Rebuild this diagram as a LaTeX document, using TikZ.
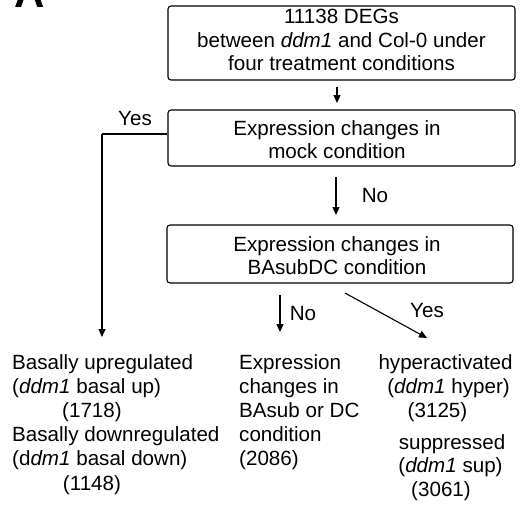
\documentclass[tikz,border=0pt]{standalone}
\usepackage{fontspec}
\setmainfont{Liberation Sans}
\usetikzlibrary{arrows.meta}
\begin{document}
\begin{tikzpicture}[x=1pt,y=-1pt,
  box/.style={draw, line width=1.1pt, rounded corners=3pt, inner sep=0pt},
  tl/.style={font=\fontsize{20.6}{24}\selectfont, inner sep=0pt},
  arr/.style={line width=1.1pt, -{Triangle[width=7pt,length=8pt]}},
  plain/.style={line width=1.1pt}]
\useasboundingbox (0,0) rectangle (532,504);
\clip (0,0) rectangle (532,504);

% panel letter (cut off at the top, as in the reference)
\node[font=\fontsize{42}{42}\selectfont\bfseries, inner sep=0pt, anchor=base west] (panel) at (14,7) {A};

% boxes
\node[box, minimum width=347pt, minimum height=74pt] (b1) at (341.5,43) {};
\node[box, minimum width=347pt, minimum height=56pt] (b2) at (341.5,138) {};
\node[box, minimum width=346pt, minimum height=58pt] (b3) at (340,254) {};

% box texts
\node[tl, anchor=base] (b1a) at (341.5,23.5) {11138 DEGs};
\node[tl, anchor=base] (b1b) at (341.5,47) {between \textit{ddm1} and Col-0 under};
\node[tl, anchor=base] (b1c) at (341.5,70.5) {four treatment conditions};
\node[tl, anchor=base] (b2a) at (337,135) {Expression changes in};
\node[tl, anchor=base] (b2b) at (337,158) {mock condition};
\node[tl, anchor=base] (b3a) at (337,251) {Expression changes in};
\node[tl, anchor=base] (b3b) at (337,274) {BAsubDC condition};

% labels
\node[tl, anchor=base] (yes1) at (135,125) {Yes};
\node[tl, anchor=base] (no1) at (375,202) {No};
\node[tl, anchor=base] (no2) at (303,320) {No};
\node[tl, anchor=base] (yes2) at (427,317) {Yes};

% bottom left column
\node[tl, anchor=base west] (l1) at (12,369) {Basally upregulated};
\node[tl, anchor=base west] (l2) at (12,393) {(\textit{ddm1} basal up)};
\node[tl, anchor=base] (l3) at (92,417) {(1718)};
\node[tl, anchor=base west] (l4) at (12,441) {Basally downregulated};
\node[tl, anchor=base west] (l5) at (12,465) {(d\textit{dm1} basal down)};
\node[tl, anchor=base] (l6) at (92,490) {(1148)};

% bottom middle column
\node[tl, anchor=base west] (m1) at (239,369) {Expression};
\node[tl, anchor=base west] (m2) at (239,393) {changes in};
\node[tl, anchor=base west] (m3) at (239,417) {BAsub or DC};
\node[tl, anchor=base west] (m4) at (239,441) {condition};
\node[tl, anchor=base west] (m5) at (239,465) {(2086)};

% bottom right column
\node[tl, anchor=base] (r1) at (445.5,369) {hyperactivated};
\node[tl, anchor=base] (r2) at (448.5,393) {(\textit{ddm1} hyper)};
\node[tl, anchor=base] (r3) at (437.5,417) {(3125)};
\node[tl, anchor=base] (r4) at (452,449) {suppressed};
\node[tl, anchor=base] (r5) at (450.5,472) {(\textit{ddm1} sup)};
\node[tl, anchor=base] (r6) at (441,496) {(3061)};

% connector end points
\coordinate (a1s) at (337,87);
\coordinate (a1e) at (337,103);
\coordinate (a2s) at (336,177);
\coordinate (a2e) at (336,215);
\coordinate (a3s) at (280,295);
\coordinate (a3e) at (280,332);
\coordinate (a4s) at (345,293);
\coordinate (a4e) at (427,338);
\coordinate (yc) at (102,134);
\coordinate (ye) at (102,337);

% connectors
\draw[arr] (a1s) -- (a1e);
\draw[plain] ([yshift=4pt]b2.west) -- (yc);
\draw[arr] (yc) -- (ye);
\draw[arr] (a2s) -- (a2e);
\draw[arr] (a3s) -- (a3e);
\draw[arr] (a4s) -- (a4e);
\end{tikzpicture}
\end{document}
